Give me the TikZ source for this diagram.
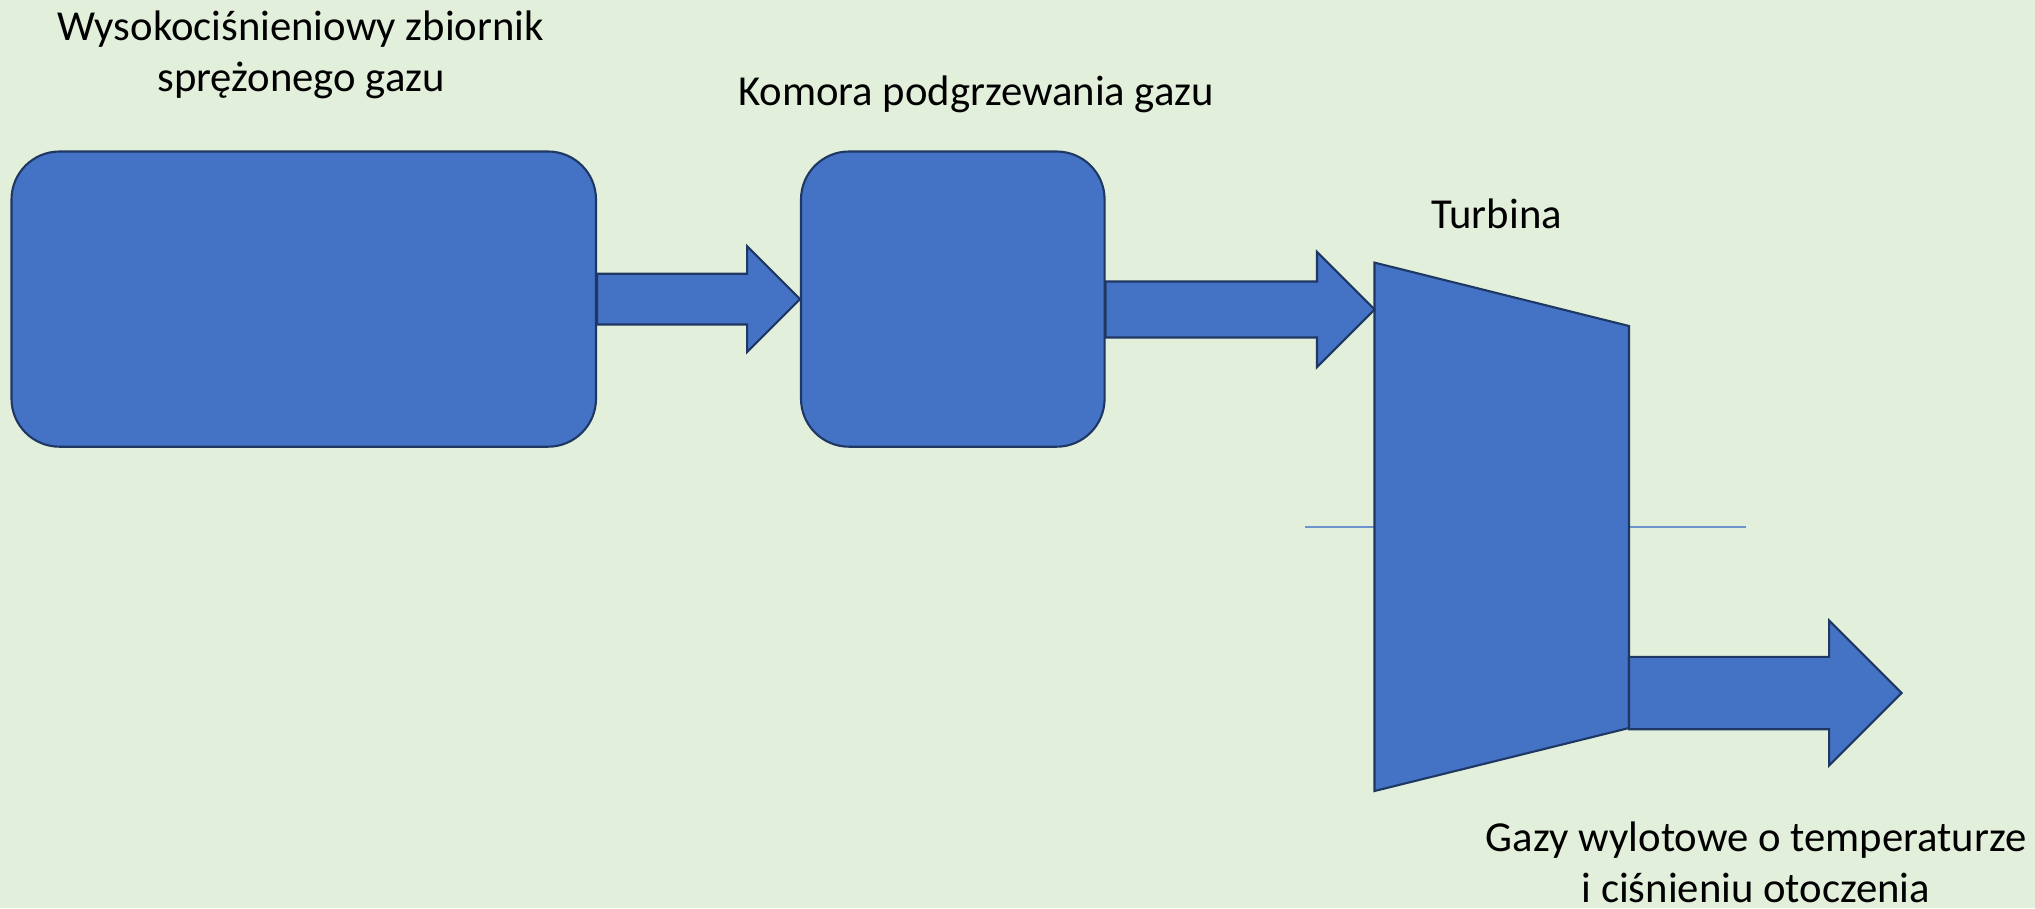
\documentclass[tikz,border=0pt]{standalone}
\usepackage{fontspec}
\setmainfont{Carlito}
\usepackage{tikz}
\usetikzlibrary{calc,positioning}

\definecolor{bgcol}{HTML}{E2EFDA}
\definecolor{blockfill}{HTML}{4472C4}
\definecolor{blockline}{HTML}{1F3763}
\definecolor{axiscol}{HTML}{6F93CD}

\tikzset{
  block/.style={draw=blockline,fill=blockfill,line width=0.6pt,rounded corners=0.48cm,inner sep=0pt},
  flow/.style={draw=blockline,fill=blockfill,line width=0.6pt,line join=miter},
  lbl/.style={font=\fontsize{12.15}{14.5}\selectfont,align=center,inner sep=0pt,anchor=base}
}

% block arrow: start, tip, half shaft width, half head width
\newcommand{\gasarrow}[4]{%
  \draw[flow] ($(#1)+(0,#3)$) -- ($(#2)+(-#4,#3)$) -- ($(#2)+(-#4,#4)$) -- (#2)
    -- ($(#2)+(-#4,-#4)$) -- ($(#2)+(-#4,-#3)$) -- ($(#1)+(0,-#3)$) -- cycle;}

\begin{document}
\begin{tikzpicture}
  \fill[bgcol] (0,0) rectangle (20.35,9.08);
  \useasboundingbox (0,0) rectangle (20.35,9.08);

  \node[block,minimum width=5.845cm,minimum height=2.952cm] (tank) at (3.0375,6.089) {};
  \node[block,minimum width=3.036cm,minimum height=2.952cm] (heater) at (9.528,6.089) {};

  % turbine outline
  \coordinate (t1) at (13.745,6.454);
  \coordinate (t2) at (16.29,5.82);
  \coordinate (t3) at (16.29,1.80);
  \coordinate (t4) at (13.745,1.17);
  \coordinate (turbin) at (13.745,5.985);
  \coordinate (turbout) at (16.29,2.15);
  \coordinate (exhaust) at (19.016,2.15);

  \draw[axiscol,line width=0.55pt] (13.05,3.81) -- (17.46,3.81);
  \draw[flow] (t1) -- (t2) -- (t3) -- (t4) -- cycle;

  \gasarrow{tank.east}{heater.west}{0.254}{0.529}
  \gasarrow{heater.east |- turbin}{turbin}{0.28}{0.575}
  \gasarrow{turbout}{exhaust}{0.362}{0.725}

  % base anchor sits on the last line
  \node[lbl] (tanklbl) at (3.01,8.17) {Wysokociśnieniowy zbiornik\\sprężonego gazu};
  \node[lbl] (heaterlbl) at (9.76,8.03) {Komora podgrzewania gazu};
  \node[lbl] (turblbl) at (14.967,6.80) {Turbina};
  \node[lbl] (exhaustlbl) at (17.56,0.06) {Gazy wylotowe o temperaturze\\i ciśnieniu otoczenia};
\end{tikzpicture}
\end{document}
